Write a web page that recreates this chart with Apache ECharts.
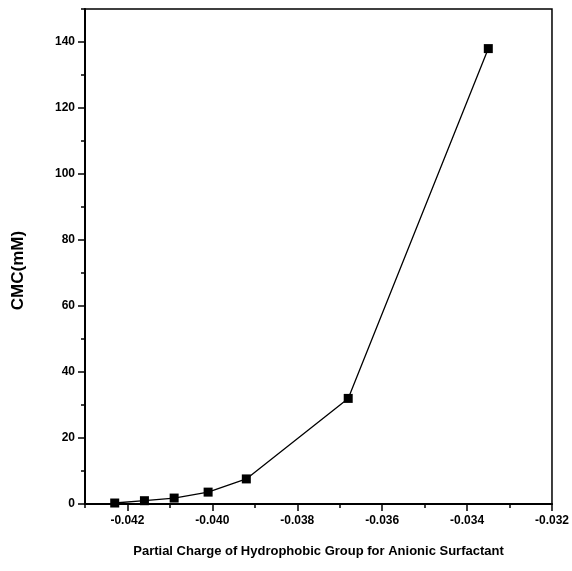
<!DOCTYPE html>
<html>
<head>
<meta charset="utf-8">
<script src="https://cdn.jsdelivr.net/npm/echarts@6/dist/echarts.min.js"></script>
<style>html,body{margin:0;padding:0;background:#fff}#c{width:572px;height:571px}</style>
</head>
<body>
<div id="c"></div>
<script>
var partialCharge = [-0.0423, -0.0416, -0.0409, -0.0401, -0.0392, -0.0368, -0.0335];
var cmc = [0.3, 1.0, 1.8, 3.6, 7.6, 32, 138];
var xMajorTicks = [-0.042, -0.040, -0.038, -0.036, -0.034, -0.032];
var xMinorTicks = [-0.043, -0.041, -0.039, -0.037, -0.035, -0.033];
var yMajorTicks = [0, 20, 40, 60, 80, 100, 120, 140];
var yMinorTicks = [10, 30, 50, 70, 90, 110, 130, 150];

var font = 'Liberation Sans, Arial, sans-serif';
var chart = echarts.init(document.getElementById('c'), null, {renderer: 'canvas'});
var pts = partialCharge.map(function (x, i) { return [x, cmc[i]]; });
chart.setOption({
  animation: false,
  backgroundColor: '#fff',
  grid: {left: 85, right: 16, top: 9, bottom: 67, show: true, borderColor: '#000', borderWidth: 1.5, backgroundColor: 'transparent'},
  xAxis: [{
    type: 'value', min: -0.043, max: -0.032,
    name: 'Partial Charge of Hydrophobic Group for Anionic Surfactant',
    nameLocation: 'middle', nameGap: 41,
    nameTextStyle: {fontFamily: font, fontWeight: 'bold', fontSize: 13, color: '#000'},
    axisLine: {show: true, onZero: false, lineStyle: {color: '#000', width: 2}},
    axisTick: {show: true, inside: false, length: 7, customValues: xMajorTicks, lineStyle: {color: '#000', width: 1.5}},
    axisLabel: {show: true, customValues: xMajorTicks, margin: 11, fontFamily: font, fontSize: 12, fontWeight: 'bold', color: '#000',
      formatter: function (v) { return v.toFixed(3); }},
    splitLine: {show: false}
  }, {
    type: 'value', min: -0.043, max: -0.032, position: 'bottom',
    axisLine: {show: false, onZero: false},
    axisTick: {show: true, inside: false, length: 4, customValues: xMinorTicks, lineStyle: {color: '#000', width: 1.5}},
    axisLabel: {show: false},
    splitLine: {show: false}
  }],
  yAxis: [{
    type: 'value', min: 0, max: 150,
    name: 'CMC(mM)', nameLocation: 'middle', nameGap: 58,
    nameTextStyle: {fontFamily: font, fontWeight: 'bold', fontSize: 17, color: '#000', padding: [0, 28, 0, 0]},
    axisLine: {show: true, onZero: false, lineStyle: {color: '#000', width: 2}},
    axisTick: {show: true, inside: false, length: 7, customValues: yMajorTicks, lineStyle: {color: '#000', width: 1.5}},
    axisLabel: {show: true, customValues: yMajorTicks, margin: 10, fontFamily: font, fontSize: 12, fontWeight: 'bold', color: '#000'},
    splitLine: {show: false}
  }, {
    type: 'value', min: 0, max: 150, position: 'left',
    axisLine: {show: false, onZero: false},
    axisTick: {show: true, inside: false, length: 4, customValues: yMinorTicks, lineStyle: {color: '#000', width: 1.5}},
    axisLabel: {show: false},
    splitLine: {show: false}
  }],
  series: [{
    type: 'line', xAxisIndex: 0, yAxisIndex: 0,
    data: pts,
    symbol: 'rect', symbolSize: 9,
    itemStyle: {color: '#000'},
    lineStyle: {color: '#000', width: 1.3}
  }]
});
</script>
</body>
</html>
